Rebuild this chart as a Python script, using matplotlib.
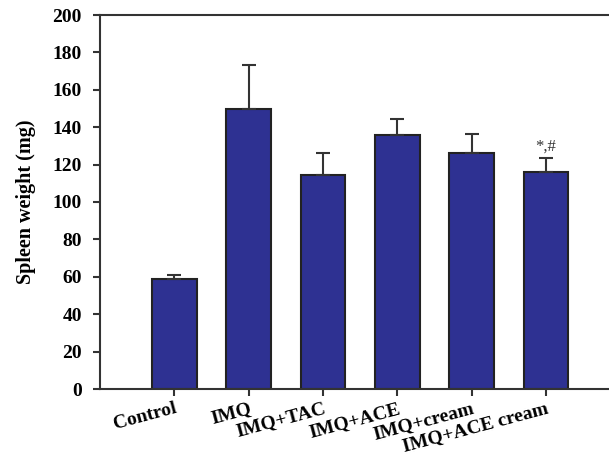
import matplotlib
matplotlib.use("Agg")
import matplotlib.pyplot as plt
import numpy as np

categories = ["Control", "IMQ", "IMQ+TAC", "IMQ+ACE", "IMQ+cream", "IMQ+ACE cream"]
values = [59, 150, 114.5, 136, 126, 116]
errors = [2, 23.5, 11.5, 8.5, 10.5, 7.5]
annotations = ["", "", "", "", "", "*,#"]
yticks = [0, 20, 40, 60, 80, 100, 120, 140, 160, 180, 200]

plt.rcParams['font.family'] = ['Liberation Serif', 'DejaVu Serif']

fig = plt.figure(figsize=(6.09, 4.57), dpi=100)
ax = fig.add_axes([100/609, 1-389/457, 1-100/609, 374/457])

x = np.arange(len(categories))
ax.bar(x, values, width=0.6, color='#2E3192', edgecolor='#222222', linewidth=1.5, zorder=2)
ax.errorbar(x, values, yerr=[np.zeros(len(errors)), errors], fmt='none',
            ecolor='#333333', elinewidth=1.5, capsize=5, capthick=1.5, zorder=3)
for xi, v, e, a in zip(x, values, errors, annotations):
    if a:
        ax.text(xi, v + e + 2, a, ha='center', va='bottom', fontsize=12, color='#333333')

ax.set_xlim(-1, 5.85)
ax.set_ylim(0, 200)
ax.set_yticks(yticks)
ax.set_yticklabels([str(t) for t in yticks], fontsize=14, fontweight='bold')
ax.set_xticks(x)
ax.set_xticklabels(categories, fontsize=14, fontweight='bold', rotation=15,
                   ha='right', va='top', rotation_mode='anchor')
ax.set_ylabel("Spleen weight (mg)", fontsize=14.5, fontweight='bold')
ax.yaxis.set_label_coords(-0.125, 0.5)

for s in ['left', 'bottom', 'top']:
    ax.spines[s].set_linewidth(1.5)
    ax.spines[s].set_color('#333333')
ax.spines['right'].set_visible(False)
ax.tick_params(axis='both', direction='out', width=1.5, length=5, color='#333333')
ax.tick_params(axis='x', pad=3)
ax.tick_params(axis='y', pad=8)

fig.savefig("out.png", dpi=100)
